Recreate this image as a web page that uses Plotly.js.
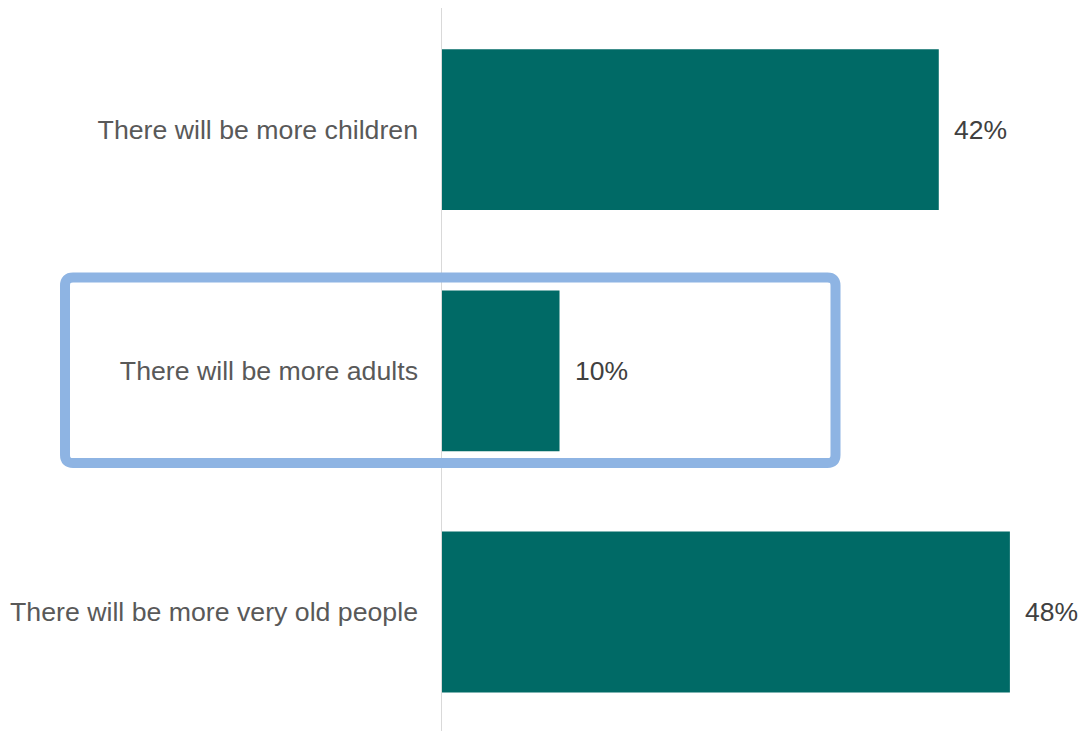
<!DOCTYPE html>
<html>
<head>
<meta charset="utf-8">
<script src="https://cdn.plot.ly/plotly-3.0.1.min.js"></script>
<style>
  html, body { margin: 0; padding: 0; background: #ffffff; }
  #plot { width: 1081px; height: 731px; }
</style>
</head>
<body>
<div id="plot"></div>
<script>
// chart values, top to bottom
const categories = ['There will be more children', 'There will be more adults', 'There will be more very old people'];
const shares = [42, 10, 48];
const shareLabels = ['42%', '10%', '48%'];

const barColor = '#006A66';
const fontFam = '"Liberation Sans", Arial, sans-serif';

var trace = {
    type: 'bar',
    orientation: 'h',
    x: shares,
    y: categories,
    marker: { color: barColor },
    hoverinfo: 'none'
};

// value labels sit a little right of each bar end
var valueNotes = categories.map(function (cat, i) {
    return {
        x: shares[i],
        y: cat,
        xref: 'x',
        yref: 'y',
        text: shareLabels[i],
        showarrow: false,
        xanchor: 'left',
        xshift: 13,
        font: { family: fontFam, size: 26.5, color: '#404040' }
    };
});

// rounded highlight box round the middle row (paper coords)
function roundedBox(x0, y0, x1, y1, rx, ry) {
    return 'M ' + (x0 + rx) + ',' + y1 +
        ' L ' + (x1 - rx) + ',' + y1 +
        ' Q ' + x1 + ',' + y1 + ' ' + x1 + ',' + (y1 - ry) +
        ' L ' + x1 + ',' + (y0 + ry) +
        ' Q ' + x1 + ',' + y0 + ' ' + (x1 - rx) + ',' + y0 +
        ' L ' + (x0 + rx) + ',' + y0 +
        ' Q ' + x0 + ',' + y0 + ' ' + x0 + ',' + (y0 + ry) +
        ' L ' + x0 + ',' + (y1 - ry) +
        ' Q ' + x0 + ',' + y1 + ' ' + (x0 + rx) + ',' + y1 + ' Z';
}

const plotW = 1081 - 441;
const plotH = 731 - 9;
function px(x) { return (x - 441) / plotW; }
function py(y) { return 1 - (y - 9) / plotH; }

var layout = {
    width: 1081,
    height: 731,
    margin: { l: 441, r: 0, t: 9, b: 0 },
    paper_bgcolor: '#ffffff',
    plot_bgcolor: '#ffffff',
    showlegend: false,
    bargap: 0.333,
    font: { family: fontFam },
    xaxis: {
        range: [0, 54],
        visible: false,
        fixedrange: true
    },
    yaxis: {
        range: [2.493, -0.5],
        showgrid: false,
        zeroline: false,
        showline: false,
        ticks: '',
        ticklabelstandoff: 22,
        tickfont: { family: fontFam, size: 26.7, color: '#595959' },
        fixedrange: true
    },
    shapes: [
        {
            type: 'line',
            xref: 'x', yref: 'paper',
            x0: 0, x1: 0, y0: 0, y1: 1.0015,
            line: { color: '#D9D9D9', width: 2 },
            layer: 'above'
        },
        {
            type: 'path',
            xref: 'paper', yref: 'paper',
            path: roundedBox(px(65), py(463), px(835.5), py(277.5), 8 / plotW, 8 / plotH),
            line: { color: '#8EB4E3', width: 10 },
            fillcolor: 'rgba(0,0,0,0)',
            layer: 'above'
        }
    ],
    annotations: valueNotes
};

Plotly.newPlot('plot', [trace], layout, { displayModeBar: false, staticPlot: true });
</script>
</body>
</html>
